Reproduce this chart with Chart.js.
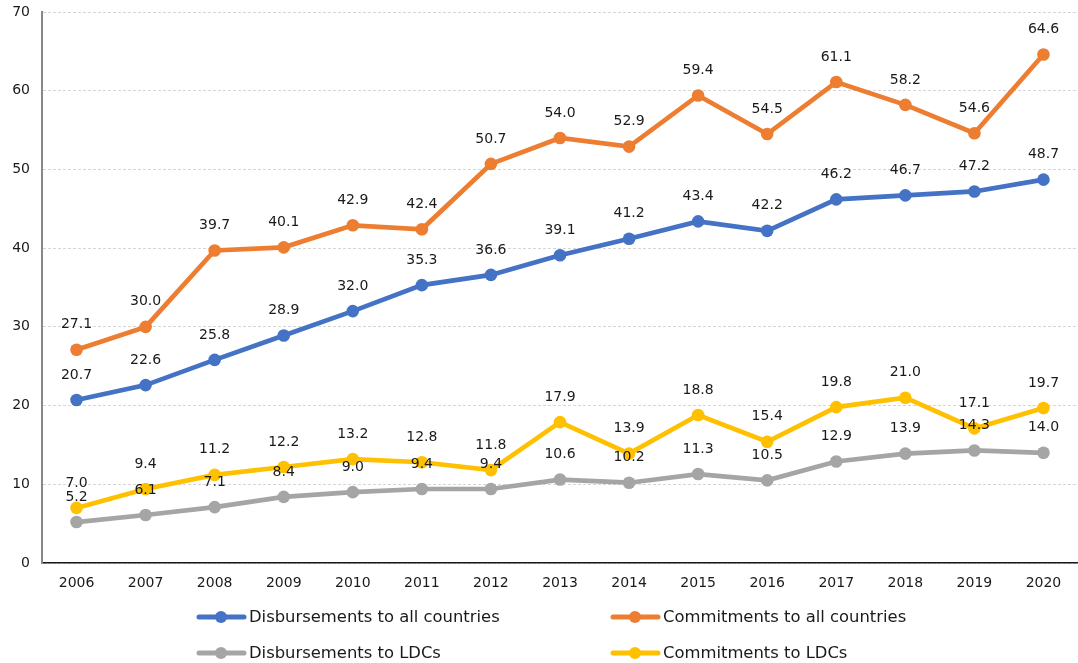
<!DOCTYPE html>
<html>
<head>
<meta charset="utf-8">
<script src="https://cdn.jsdelivr.net/npm/chart.js@4"></script>
<style>
  html, body { margin: 0; padding: 0; background: #fff; overflow: hidden; }
  canvas { display: block; }
</style>
</head>
<body>
<canvas id="odaChart" width="1078" height="663"></canvas>
<script>
// Values (USD billions)
const years = ['2006', '2007', '2008', '2009', '2010', '2011', '2012', '2013', '2014', '2015', '2016', '2017', '2018', '2019', '2020'];
const disbursementsAll = [20.7, 22.6, 25.8, 28.9, 32.0, 35.3, 36.6, 39.1, 41.2, 43.4, 42.2, 46.2, 46.7, 47.2, 48.7];
const commitmentsAll = [27.1, 30.0, 39.7, 40.1, 42.9, 42.4, 50.7, 54.0, 52.9, 59.4, 54.5, 61.1, 58.2, 54.6, 64.6];
const disbursementsLDC = [5.2, 6.1, 7.1, 8.4, 9.0, 9.4, 9.4, 10.6, 10.2, 11.3, 10.5, 12.9, 13.9, 14.3, 14.0];
const commitmentsLDC = [7.0, 9.4, 11.2, 12.2, 13.2, 12.8, 11.8, 17.9, 13.9, 18.8, 15.4, 19.8, 21.0, 17.1, 19.7];
const seriesNames = ['Disbursements to all countries', 'Commitments to all countries', 'Disbursements to LDCs', 'Commitments to LDCs'];
const seriesColors = ['#4472C4', '#ED7D31', '#A5A5A5', '#FFC000'];

const FONT = '"DejaVu Sans", Verdana, sans-serif';

// Value labels above every point, drawn after all lines
const valueLabels = {
    id: 'valueLabels',
    afterDatasetsDraw(chart) {
        const ctx = chart.ctx;
        ctx.save();
        ctx.font = '14px ' + FONT;
        ctx.fillStyle = '#1a1a1a';
        ctx.textAlign = 'center';
        ctx.textBaseline = 'middle';
        chart.data.datasets.forEach((ds, i) => {
            chart.getDatasetMeta(i).data.forEach((pt, j) => {
                ctx.fillText(ds.data[j].toFixed(1), pt.x, pt.y - 25);
            });
        });
        ctx.restore();
    }
};

// Two-column legend under the axis
const gridLegend = {
    id: 'gridLegend',
    afterDraw(chart) {
        const ctx = chart.ctx;
        const cols = [197, 611];
        const rows = [617, 653];
        ctx.save();
        ctx.font = '16.4px ' + FONT;
        ctx.textBaseline = 'middle';
        ctx.textAlign = 'left';
        seriesNames.forEach((name, i) => {
            const x = cols[i % 2];
            const y = rows[Math.floor(i / 2)];
            ctx.strokeStyle = seriesColors[i];
            ctx.fillStyle = seriesColors[i];
            ctx.lineWidth = 5;
            ctx.lineCap = 'round';
            ctx.beginPath();
            ctx.moveTo(x + 2, y);
            ctx.lineTo(x + 47, y);
            ctx.stroke();
            ctx.beginPath();
            ctx.arc(x + 24, y, 6, 0, Math.PI * 2);
            ctx.fill();
            ctx.fillStyle = '#1a1a1a';
            ctx.fillText(name, x + 52, y + 1);
        });
        ctx.restore();
    }
};

const datasets = [disbursementsAll, commitmentsAll, disbursementsLDC, commitmentsLDC].map((values, i) => ({
    label: seriesNames[i],
    data: values,
    borderColor: seriesColors[i],
    backgroundColor: seriesColors[i],
    borderWidth: 4.7,
    pointRadius: 6.3,
    pointBorderWidth: 0,
    pointHoverRadius: 6.3,
    tension: 0
}));

const ctx = document.getElementById('odaChart').getContext('2d');
new Chart(ctx, {
    type: 'line',
    data: { labels: years, datasets: datasets },
    options: {
        responsive: false,
        animation: false,
        layout: { autoPadding: false, padding: { top: 12, right: 0, bottom: 70, left: 0 } },
        plugins: {
            legend: { display: false },
            tooltip: { enabled: false }
        },
        scales: {
            x: {
                offset: true,
                grid: { display: false, drawTicks: false },
                border: { color: '#1a1a1a', width: 1.5 },
                ticks: { color: '#1a1a1a', font: { family: FONT, size: 14 }, padding: 12, maxRotation: 0 },
                afterFit(scale) {
                    scale.height = 30;
                    scale.paddingLeft = 0;
                    scale.paddingRight = 0;
                }
            },
            y: {
                min: 0,
                max: 70,
                grid: { color: '#d6d6d6', drawTicks: false, lineWidth: 1 },
                border: { color: '#888888', width: 2, dash: [3, 2] },
                ticks: { stepSize: 10, color: '#1a1a1a', font: { family: FONT, size: 14 }, padding: 12 },
                afterFit(scale) {
                    scale.width = 42;
                    scale.paddingTop = 0;
                    scale.paddingBottom = 0;
                }
            }
        }
    },
    plugins: [valueLabels, gridLegend]
});
</script>
</body>
</html>
